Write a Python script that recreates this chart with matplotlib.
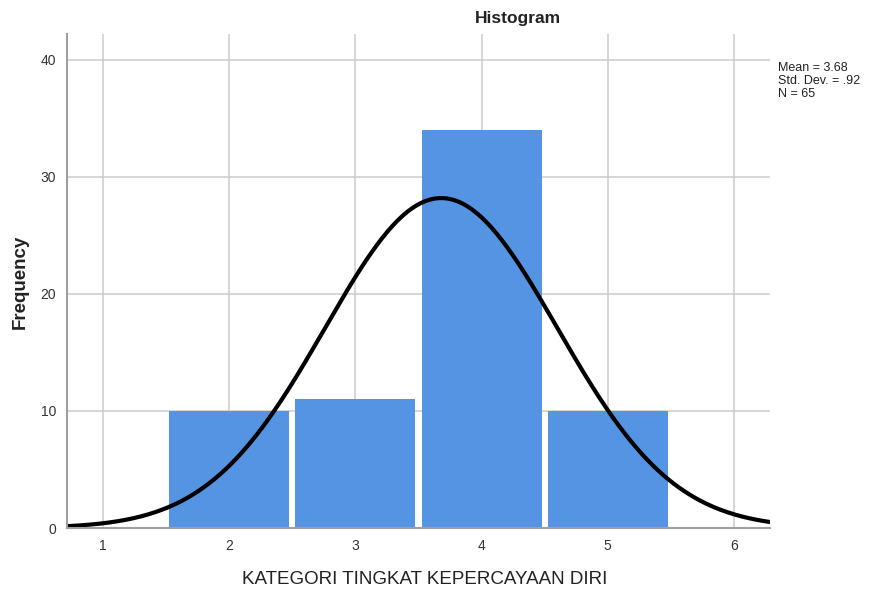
import numpy as np
import matplotlib
matplotlib.use("Agg")
import matplotlib.pyplot as plt

plt.rcParams["font.family"] = ["Liberation Sans", "DejaVu Sans"]

# histogram data (SPSS output)
categories = [2, 3, 4, 5]
frequencies = [10, 11, 34, 10]
mean_val = 3.68
std_val = 0.92
n_total = 65
x_ticks = [1, 2, 3, 4, 5, 6]
y_ticks = [0, 10, 20, 30, 40]

fig = plt.figure(figsize=(8.7, 5.94), dpi=100)
ax = fig.add_axes([67 / 870, 66 / 594, 703 / 870, 494 / 594])

ax.bar(categories, frequencies, width=0.952, color="#5594e3",
       linewidth=0, zorder=2)

# normal curve scaled to counts (bin width 1)
xs = np.linspace(0.71, 6.29, 400)
ys = n_total / (std_val * np.sqrt(2 * np.pi)) * np.exp(-0.5 * ((xs - mean_val) / std_val) ** 2)
ax.plot(xs, ys, color="black", linewidth=3, zorder=3, solid_capstyle="butt")

ax.set_xlim(0.714, 6.286)
ax.set_ylim(0, 42.2)
ax.set_xticks(x_ticks)
ax.set_yticks(y_ticks)
ax.tick_params(length=0, labelsize=10, colors="#333333", pad=8)
ax.grid(True, color="#cccccc", linewidth=1.1, zorder=0)
ax.set_axisbelow(True)
for side in ["top", "right"]:
    ax.spines[side].set_visible(False)
for side in ["left", "bottom"]:
    ax.spines[side].set_color("#a0a0a0")
    ax.spines[side].set_linewidth(1.5)
    ax.spines[side].set_zorder(4)

fig.text(518 / 870, 1 - 18 / 594, "Histogram", ha="center", va="center",
         fontsize=12.5, fontweight="bold", color="#222222")
fig.text(20 / 870, 1 - 282 / 594, "Frequency", ha="center", va="center",
         rotation=90, fontsize=13.5, fontweight="bold", color="#222222")
fig.text(425 / 870, 1 - 579 / 594, "KATEGORI TINGKAT KEPERCAYAAN DIRI",
         ha="center", va="center", fontsize=13.5, color="#222222")
fig.text(778 / 870, 1 - 81 / 594,
         "Mean = %.2f\nStd. Dev. = .92\nN = %d" % (mean_val, n_total),
         ha="left", va="center", fontsize=9, color="#222222", linespacing=1.08)

fig.savefig("out.png", dpi=100)
